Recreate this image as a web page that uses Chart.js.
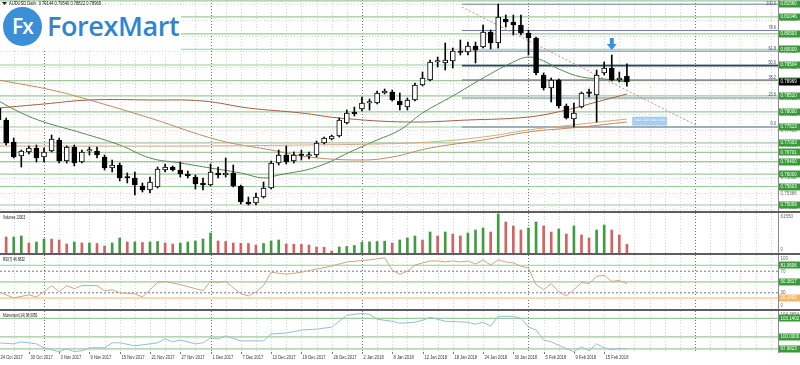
<!DOCTYPE html>
<html>
<head>
<meta charset="utf-8">
<script src="https://cdn.jsdelivr.net/npm/chart.js@4.4.1/dist/chart.umd.min.js"></script>
<style>
  body { margin: 0; background: #fff; width: 800px; height: 365px; overflow: hidden; position: relative; }
  canvas { position: absolute; left: 0; }
  .sep { position: absolute; left: 0; width: 800px; height: 2px; background: #5e5e5e; }
  #logo { position: absolute; left: 0; top: 5px; width: 181px; height: 46px; background: #fff; }
  #fx { position: absolute; left: 3px; top: 2px; width: 39px; height: 39px; border-radius: 50%; background: #3b8fd6;
        color: #fff; font: 600 21px/39px "Open Sans", sans-serif; text-align: center; letter-spacing: -1px; }
  #brand { position: absolute; left: 47px; top: 1px; font: 600 27px/40px "Open Sans", sans-serif; color: #2f86cf; letter-spacing: -0.4px; }
</style>
</head>
<body>
<canvas id="main" width="800" height="211" style="top:0"></canvas>
<div class="sep" style="top:211px"></div>
<canvas id="vol" width="800" height="40" style="top:213px"></canvas>
<div class="sep" style="top:253px"></div>
<canvas id="rsi" width="800" height="54" style="top:255px"></canvas>
<div class="sep" style="top:309px"></div>
<canvas id="mom" width="800" height="54" style="top:311px"></canvas>
<div id="logo"><div id="fx">Fx</div><span id="brand">ForexMart</span></div>

<script>
// ---- data ----
const dateLabels = ['24 Oct 2017', '30 Oct 2017', '3 Nov 2017', '9 Nov 2017', '15 Nov 2017', '21 Nov 2017',
  '27 Nov 2017', '1 Dec 2017', '7 Dec 2017', '13 Dec 2017', '19 Dec 2017', '26 Dec 2017', '2 Jan 2018',
  '8 Jan 2018', '12 Jan 2018', '18 Jan 2018', '24 Jan 2018', '30 Jan 2018', '5 Feb 2018', '9 Feb 2018', '15 Feb 2018'];
const monthStarts = [6, 28, 48, 70, 92];

const openP = [0.78123,0.77738,0.77032,0.76582,0.76711,0.76839,0.76550,0.76743,0.77096,0.76422,
  0.76871,0.76390,0.76743,0.76743,0.76550,0.76197,0.76293,0.75900,0.75876,0.75619,
  0.75491,0.75587,0.76133,0.76229,0.76133,0.76005,0.75908,0.75716,0.75651,0.76037,
  0.75972,0.76037,0.75619,0.75106,0.75074,0.75266,0.75555,0.76358,0.76614,0.76422,
  0.76614,0.76582,0.76614,0.77000,0.77128,0.77224,0.77642,0.77995,0.78091,0.78284,
  0.78284,0.78605,0.78637,0.78348,0.78155,0.78380,0.78861,0.79022,0.79600,0.79568,
  0.79632,0.79921,0.79921,0.80113,0.80081,0.80563,0.80210,0.80980,0.80884,0.80787,
  0.80531,0.80370,0.79182,0.78765,0.79022,0.78187,0.77770,0.78155,0.78605,0.78540,
  0.79247,0.79407,0.79022,0.79144];
const highP = [0.78219,0.77802,0.77160,0.76775,0.76903,0.76935,0.76839,0.77256,0.77160,0.76903,
  0.76935,0.76775,0.76871,0.76871,0.76614,0.76454,0.76358,0.76037,0.76069,0.75716,
  0.75908,0.76229,0.76326,0.76261,0.76390,0.76101,0.75972,0.75876,0.76326,0.76229,
  0.76518,0.76293,0.75651,0.75266,0.75395,0.75748,0.76422,0.76775,0.76903,0.76711,
  0.76775,0.76711,0.77064,0.77192,0.77256,0.77802,0.78059,0.78155,0.78476,0.78412,
  0.78669,0.78733,0.78701,0.78605,0.78444,0.78926,0.79279,0.79664,0.79760,0.80210,
  0.80049,0.80306,0.80242,0.80242,0.80787,0.80627,0.81455,0.81108,0.81108,0.81108,
  0.80627,0.80402,0.79247,0.79086,0.79054,0.78252,0.78284,0.78637,0.78733,0.79343,
  0.79600,0.79824,0.79279,0.79540];
const lowP = [0.77674,0.76935,0.76518,0.76229,0.76647,0.76390,0.76390,0.76711,0.76358,0.76358,
  0.76261,0.76358,0.76614,0.76518,0.76133,0.76069,0.75780,0.75716,0.75330,0.75427,
  0.75395,0.75555,0.76069,0.76101,0.75908,0.75876,0.75523,0.75491,0.75619,0.75876,
  0.75908,0.75587,0.75042,0.75009,0.75009,0.75234,0.75523,0.76293,0.76326,0.76358,
  0.76454,0.76486,0.76550,0.76968,0.77096,0.77192,0.77610,0.77866,0.78027,0.78059,
  0.78252,0.78573,0.78348,0.78059,0.78059,0.78348,0.78829,0.78990,0.79439,0.79343,
  0.79407,0.79824,0.79824,0.79568,0.80049,0.80017,0.80049,0.80723,0.80466,0.80466,
  0.79824,0.79182,0.78701,0.78316,0.78123,0.77770,0.77513,0.78123,0.78476,0.77674,
  0.79182,0.78990,0.78958,0.78822];
const closeP = [0.77738,0.77000,0.76550,0.76743,0.76839,0.76518,0.76711,0.77128,0.76422,0.76871,
  0.76358,0.76711,0.76775,0.76614,0.76197,0.76293,0.75876,0.75876,0.75651,0.75491,
  0.75748,0.76165,0.76229,0.76133,0.76005,0.75940,0.75684,0.75651,0.76069,0.75972,
  0.76037,0.75619,0.75106,0.75042,0.75266,0.75555,0.76358,0.76614,0.76390,0.76614,
  0.76598,0.76598,0.77000,0.77160,0.77224,0.77738,0.77963,0.77931,0.78284,0.78300,
  0.78605,0.78669,0.78380,0.78219,0.78380,0.78861,0.79086,0.79600,0.79616,0.79664,
  0.79953,0.79905,0.80113,0.79985,0.80563,0.80210,0.81044,0.80884,0.80787,0.80531,
  0.80370,0.79247,0.78765,0.79022,0.78187,0.77802,0.77963,0.78605,0.78595,0.79182,
  0.79407,0.79022,0.79086,0.78969];

// moving averages, read at a few bars each
const maGreenIdx = [0,3,6,11,16,20,24,28,32,35,37,42,47,50,53,56,60,64,68,70,72,74,77,80,83];
const maGreenVal = [0.78348,0.77963,0.77674,0.77321,0.76935,0.76518,0.76358,0.76197,0.76037,0.75876,0.75972,
  0.76229,0.76775,0.77096,0.77417,0.77963,0.78508,0.79086,0.79600,0.79760,0.79632,0.79375,0.79118,0.79054,0.78958];
const maBrownIdx = [0,6,12,20,27,33,40,45,54,62,70,75,79,83];
const maBrownVal = [0.78123,0.78252,0.78380,0.78380,0.78348,0.78123,0.77963,0.77802,0.77674,0.77738,0.77834,0.78059,0.78316,0.78573];
const maTanIdx = [0,7,12,20,29,36,41,48,52,57,64,70,77,83];
const maTanVal = [0.79022,0.78701,0.78380,0.77802,0.77096,0.76775,0.76550,0.76454,0.76550,0.76839,0.77096,0.77353,0.77513,0.77674];
const maSlowIdx = [0,26,40,50,57,64,70,77,83];
const maSlowVal = [0.76903,0.76903,0.76935,0.76968,0.77032,0.77192,0.77417,0.77610,0.77770];

const priceTicks = [0.74880,0.75386,0.75892,0.76397,0.76903,0.77409,0.77915,0.78421,0.78927,0.79433,0.79938,0.80444,0.80950,0.81455];
const srLevels = [0.81560,0.81046,0.80503,0.80009,0.79504,0.79000,0.78510,0.78000,0.77513,0.77003,0.76701,0.76400,0.76000,0.75603,0.75009];
const fibRatios = [0, 23.6, 38.2, 50, 61.8, 78.6, 100];
const fibLow = 0.77513, fibHigh = 0.81455;
const lastPrice = 0.78969;

const volumes = [26160,24620,24620,26160,15390,16930,21550,21400,20010,13850,
  16930,15390,15500,14620,10770,15390,23090,16930,17100,16160,
  16930,17700,15390,13850,15390,16930,18470,21550,30780,18470,
  17700,15390,14930,14620,12310,14620,18470,20010,13850,13540,
  13240,12310,9230,8930,3080,9230,10000,11540,16930,17240,
  17700,18160,15390,20010,23090,26160,20010,32320,26160,32320,
  29240,26160,30780,35400,38480,32320,60020,47710,41550,35400,
  38480,47710,41550,32320,36940,29240,41550,27700,23090,35400,
  43090,35400,27700,13303];

const rsiIdx = [0,2,4,5,6,7,8,9,10,11,13,14,15,16,18,19,21,22,24,26,27,28,29,30,32,33,34,35,36,38,40,42,44,46,49,51,52,53,
  54,55,56,57,58,59,60,61,62,63,64,65,66,67,68,69,70,71,72,73,74,75,76,77,78,79,80,81,82,83];
const rsiVal = [31.9,20.5,26.2,22.4,31.9,43.3,31.9,43.3,37.6,43.3,43.3,33.8,35.7,30,28.1,22.4,49,51,45.2,37.6,
  33.8,51,49,51,28.1,24.3,31.9,43.3,68.1,64.3,68.1,73.8,79.5,87.1,91,94.8,71.9,64.3,
  70.0,81.4,85.2,89.0,89.0,87.1,89.0,87.1,89.0,83.3,91.0,81.4,91.0,87.1,85.2,79.5,75.7,45.2,35.7,47.1,31.9,24.3,
  35.7,49.0,47.1,60.5,62.4,51.0,52.9,46.8832];

const momIdx = [0,2,3,5,6,8,9,10,11,12,14,15,16,18,20,21,22,23,24,26,27,28,29,30,32,35,36,38,40,42,44,46,48,49,50,
  52,53,55,56,57,59,62,63,64,65,66,68,69,70,71,72,73,75,76,77,78,79,80,81,82,83];
const momVal = [99.01,98.84,99.17,98.84,98.18,97.52,98.02,97.52,97.69,98.18,98.18,99.01,99.01,98.51,98.84,99.01,99.67,
  99.17,99.50,98.84,99.01,99.83,99.67,100.17,99.34,99.34,100.50,100.66,101.16,101.32,101.65,103.64,103.97,103.80,102.98,
  102.64,102.31,102.48,102.81,103.31,102.64,102.48,102.15,102.48,101.82,103.47,103.47,103.14,101.65,101.16,99.50,99.17,
  98.02,97.52,98.35,97.69,98.84,98.18,97.85,98.02,98.0059];

// ---- layout ----
const FONT = '"Liberation Sans", Arial, sans-serif';
const X_MIN = 0.185, X_MAX = 102.96;
const GREEN_LINE = '#9fca9b', GREEN_BOX = '#3a9a3a';

const pts = (xs, ys) => xs.map((x, i) => ({x: x, y: ys[i]}));
const bars = openP.map((_, i) => i);

// narrow MT4-like text
function smallText(ctx, text, x, y, size, squeeze) {
  ctx.save();
  ctx.font = size + 'px ' + FONT;
  ctx.translate(x, y);
  ctx.scale(squeeze, 1);
  ctx.fillText(text, 0, 0);
  ctx.restore();
}

function xAxis() {
  return {type: 'linear', min: X_MIN, max: X_MAX, offset: false, display: false};
}

function yAxis(min, max) {
  return {
    position: 'right', min: min, max: max,
    grid: {display: false}, ticks: {display: false},
    border: {display: true, color: '#8a8a8a'},
    afterFit: (s) => { s.width = 22; }
  };
}

// grid, level lines and right-side labels, the MT4 way
const mtPanel = {
  id: 'mtPanel',
  beforeDatasetsDraw(chart, args, o) {
    const {ctx, chartArea: a, scales: {x, y}} = chart;
    ctx.save();
    ctx.beginPath();
    ctx.rect(a.left, a.top, a.right - a.left, a.bottom - a.top);
    ctx.clip();
    ctx.lineWidth = 1;
    ctx.setLineDash([1, 2]);
    for (let i = 0; i <= X_MAX; i += 2) {
      const px = Math.round(x.getPixelForValue(i)) + 0.5;
      ctx.strokeStyle = monthStarts.includes(i) ? '#707070' : '#d6d6d6';
      ctx.beginPath(); ctx.moveTo(px, a.top); ctx.lineTo(px, a.bottom); ctx.stroke();
    }
    ctx.strokeStyle = '#d6d6d6';
    (o.hGrid || []).forEach((v) => {
      const py = Math.round(y.getPixelForValue(v)) + 0.5;
      ctx.beginPath(); ctx.moveTo(a.left, py); ctx.lineTo(a.right, py); ctx.stroke();
    });
    (o.levels || []).forEach((l) => {
      const py = y.getPixelForValue(l.v);
      const x0 = l.from !== undefined ? x.getPixelForValue(l.from) : a.left;
      ctx.setLineDash(l.dash || []);
      ctx.strokeStyle = l.color;
      ctx.lineWidth = l.width || 1;
      ctx.beginPath(); ctx.moveTo(x0, py); ctx.lineTo(a.right, py); ctx.stroke();
    });
    ctx.restore();
  },
  afterDraw(chart, args, o) {
    const {ctx, chartArea: a, scales: {x, y}} = chart;
    ctx.save();
    ctx.textBaseline = 'middle';
    (o.labels || []).forEach((l) => {
      let py = y.getPixelForValue(l.v);
      py = Math.min(Math.max(py, a.top + 3.5), a.bottom - 3.5);
      if (l.bg) {
        ctx.fillStyle = l.bg;
        ctx.fillRect(a.right + 1, Math.round(py) - 3.5, 24, 7);
      }
      ctx.fillStyle = l.fg || '#666';
      smallText(ctx, l.text, a.right + 2.5, py, 5, 0.9);
    });
    if (o.title) {
      ctx.fillStyle = '#111';
      ctx.textBaseline = 'top';
      smallText(ctx, o.title, a.left + 3, a.top + 2, 4.6, 0.7);
    }
    if (o.dates) {
      ctx.fillStyle = '#333';
      ctx.strokeStyle = '#777';
      ctx.textBaseline = 'top';
      dateLabels.forEach((d, k) => {
        const px = Math.round(x.getPixelForValue(k * 4)) + 0.5;
        ctx.beginPath(); ctx.moveTo(px, a.bottom); ctx.lineTo(px, a.bottom + 2); ctx.stroke();
        smallText(ctx, d, px + 1, a.bottom + 3.5, 4.8, 0.85);
      });
    }
    ctx.restore();
  }
};

// fib labels, arrow and the little blue box on the price panel
const mainExtras = {
  id: 'mainExtras',
  afterDatasetsDraw(chart) {
    const {ctx, chartArea: a, scales: {x, y}} = chart;
    ctx.save();
    ctx.fillStyle = '#3c4c78';
    ctx.textAlign = 'right';
    ctx.textBaseline = 'bottom';
    fibRatios.forEach((r) => {
      const py = y.getPixelForValue(fibLow + (fibHigh - fibLow) * r / 100);
      smallText(ctx, r.toFixed(1), a.right - 2, Math.max(py - 0.5, 6), 4.6, 0.85);
    });
    // arrow
    const ax = x.getPixelForValue(81), ay0 = y.getPixelForValue(0.80370), ay1 = y.getPixelForValue(0.79985);
    ctx.fillStyle = '#3a8fdc';
    ctx.fillRect(ax - 2, ay0, 4, ay1 - ay0 - 5);
    ctx.beginPath();
    ctx.moveTo(ax - 5, ay1 - 6); ctx.lineTo(ax + 5, ay1 - 6); ctx.lineTo(ax, ay1); ctx.closePath(); ctx.fill();
    // blue box
    const bx0 = x.getPixelForValue(83.7), bx1 = x.getPixelForValue(88.3);
    const by0 = y.getPixelForValue(0.77847), by1 = y.getPixelForValue(0.77558);
    ctx.fillStyle = '#a9cdef';
    ctx.fillRect(bx0, by0, bx1 - bx0, by1 - by0);
    ctx.fillStyle = '#e8f2fb';
    for (let k = 0; k < 4; k++) ctx.fillRect(bx0 + 3 + k * 8, by0 + 3, 6, 1);
    ctx.restore();
  },
  afterDraw(chart) {
    const {ctx} = chart;
    ctx.save();
    ctx.fillStyle = '#111';
    ctx.textBaseline = 'top';
    ctx.beginPath(); ctx.moveTo(2, 2); ctx.lineTo(7, 2); ctx.lineTo(4.5, 5); ctx.closePath(); ctx.fill();
    smallText(ctx, 'AUDUSD,Daily  0.79144 0.79540 0.78822 0.78969', 9, 1, 4.8, 0.85);
    ctx.restore();
  }
};

const baseOptions = {
  responsive: false, animation: false, devicePixelRatio: 1, events: [],
  layout: {padding: 0}
};

const fibLevels = fibRatios.map((r) => ({
  v: fibLow + (fibHigh - fibLow) * r / 100, from: 61.2,
  color: r === 50 ? '#2f3f66' : (r === 38.2 ? '#8c8c8c' : '#6e7ea2'), width: (r === 50 || r === 38.2) ? 1.6 : 1
}));

const mainLabels = priceTicks.map((v) => ({v: v, text: v.toFixed(5)}))
  .concat(srLevels.map((v) => ({v: v, text: v.toFixed(5), bg: GREEN_BOX, fg: '#fff'})))
  .concat([{v: lastPrice, text: lastPrice.toFixed(5), bg: '#000', fg: '#fff'}]);

function lineSet(xs, ys, color, tension) {
  return {type: 'line', data: pts(xs, ys), borderColor: color, borderWidth: 1, pointRadius: 0, tension: tension, order: 3};
}

new Chart(document.getElementById('main'), {
  type: 'bar',
  data: {
    datasets: [
      lineSet(maSlowIdx, maSlowVal, '#d6aa7e', 0.4),
      lineSet(maTanIdx, maTanVal, '#c08a5e', 0.4),
      lineSet(maBrownIdx, maBrownVal, '#a25f3c', 0.4),
      lineSet(maGreenIdx, maGreenVal, '#4f8c4f', 0.4),
      {type: 'line', data: [{x: 61.2, y: 0.81365}, {x: 92.3, y: 0.77550}], borderColor: '#cc8a8a',
        borderWidth: 1, borderDash: [2, 2], pointRadius: 0, order: 3},
      {data: bars.map((i) => ({x: i, y: [lowP[i], highP[i]]})), backgroundColor: '#000',
        barThickness: 1, grouped: false, order: 1},
      {data: bars.map((i) => ({x: i, y: [openP[i], closeP[i]]})),
        backgroundColor: bars.map((i) => (closeP[i] >= openP[i] ? '#fff' : '#000')),
        borderColor: '#000', borderWidth: 1, borderSkipped: false, barThickness: 5, minBarLength: 1.5,
        grouped: false, order: 0}
    ]
  },
  options: Object.assign({}, baseOptions, {
    scales: {x: xAxis(), y: yAxis(0.74817, 0.81590)},
    plugins: {
      legend: {display: false}, tooltip: {enabled: false},
      mtPanel: {
        hGrid: priceTicks,
        levels: srLevels.map((v) => ({v: v, color: GREEN_LINE, width: 1.2})).concat(fibLevels),
        labels: mainLabels
      }
    }
  }),
  plugins: [mtPanel, mainExtras]
});

new Chart(document.getElementById('vol'), {
  type: 'bar',
  data: {
    datasets: [{
      data: bars.map((i) => ({x: i, y: volumes[i]})),
      backgroundColor: bars.map((i) => (i > 0 && volumes[i] < volumes[i - 1] ? '#d46262' : '#3f9c3f')),
      barThickness: 2
    }]
  },
  options: Object.assign({}, baseOptions, {
    scales: {x: xAxis(), y: yAxis(0, 61550)},
    plugins: {
      legend: {display: false}, tooltip: {enabled: false},
      mtPanel: {title: 'Volumes 13303', labels: [{v: 61550, text: '61550'}, {v: 0, text: '0'}]}
    }
  }),
  plugins: [mtPanel]
});

new Chart(document.getElementById('rsi'), {
  type: 'line',
  data: {datasets: [{data: pts(rsiIdx, rsiVal), borderColor: '#c9a882', borderWidth: 1, pointRadius: 0}]},
  options: Object.assign({}, baseOptions, {
    scales: {x: xAxis(), y: yAxis(0, 100)},
    plugins: {
      legend: {display: false}, tooltip: {enabled: false},
      mtPanel: {
        title: 'RSI(7) 46.8832',
        levels: [
          {v: 81.0606, color: GREEN_LINE, width: 1.2}, {v: 70, color: '#777', dash: [2, 2]},
          {v: 50.3817, color: GREEN_LINE, width: 1.2}, {v: 30, color: '#777', dash: [2, 2]},
          {v: 20.1493, color: '#f3ddb8', width: 2.2}
        ],
        labels: [
          {v: 100, text: '100'}, {v: 70, text: '70'}, {v: 30, text: '30'}, {v: 0, text: '0'},
          {v: 81.0606, text: '81.0606', bg: GREEN_BOX, fg: '#fff'},
          {v: 50.3817, text: '50.3817', bg: GREEN_BOX, fg: '#fff'},
          {v: 20.1493, text: '20.1493', bg: '#f2b765', fg: '#fff'}
        ]
      }
    }
  }),
  plugins: [mtPanel]
});

new Chart(document.getElementById('mom'), {
  type: 'line',
  data: {datasets: [{data: pts(momIdx, momVal), borderColor: '#8fc0d4', borderWidth: 1, pointRadius: 0}]},
  options: Object.assign({}, baseOptions, {
    layout: {padding: {bottom: 13}},
    scales: {x: xAxis(), y: yAxis(97.47, 104.3654)},
    plugins: {
      legend: {display: false}, tooltip: {enabled: false},
      mtPanel: {
        title: 'Momentum(14) 98.0059',
        dates: true,
        levels: [
          {v: 103.1402, color: GREEN_LINE, width: 1.2}, {v: 100, color: GREEN_LINE, width: 1.2},
          {v: 97.9823, color: GREEN_LINE, width: 1.2}
        ],
        labels: [
          {v: 104.3654, text: '104.3654'}, {v: 97.47, text: '96.9959'},
          {v: 103.1402, text: '103.1402', bg: GREEN_BOX, fg: '#fff'},
          {v: 100, text: '100.0000', bg: GREEN_BOX, fg: '#fff'},
          {v: 97.9823, text: '97.9823', bg: GREEN_BOX, fg: '#fff'}
        ]
      }
    }
  }),
  plugins: [mtPanel]
});
</script>
</body>
</html>
